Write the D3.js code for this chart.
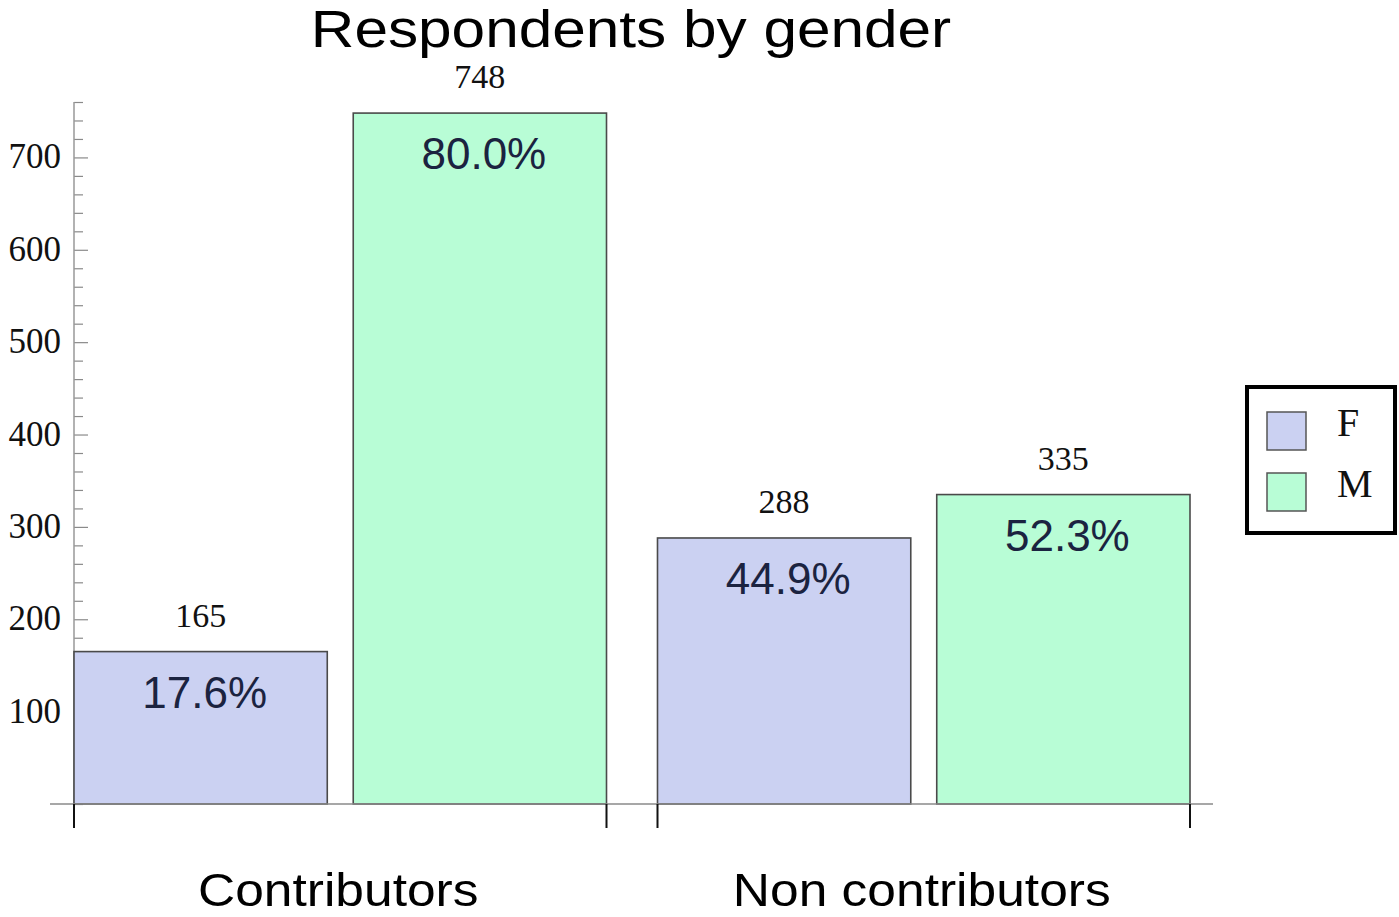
<!DOCTYPE html>
<html>
<head>
<meta charset="utf-8">
<script src="https://cdn.jsdelivr.net/npm/d3@7/dist/d3.min.js"></script>
<style>
  html, body { margin: 0; padding: 0; background: #fff; }
  svg { display: block; }
</style>
</head>
<body>
<script>
const title = "Respondents by gender";
const groups = ["Contributors", "Non contributors"];
const genders = ["F", "M"];
const counts = { "Contributors": [165, 748], "Non contributors": [288, 335] };
const percents = { "Contributors": ["17.6%", "80.0%"], "Non contributors": ["44.9%", "52.3%"] };
const yMajorTicks = [100, 200, 300, 400, 500, 600, 700];
const yMinorTicks = d3.range(0, 761, 20);
const colors = ["#cbd1f2", "#b8fdd6"];

const W = 1399, H = 917;
const svg = d3.select("body").append("svg").attr("width", W).attr("height", H);

const y = d3.scaleLinear().domain([0, 760]).range([804, 102]);
const x0 = d3.scaleBand().domain(groups).range([74, 1190]).paddingInner(0.0874).paddingOuter(0);
const x1 = d3.scaleBand().domain(genders).range([0, x0.bandwidth()]).paddingInner(0.093).paddingOuter(0);
const color = d3.scaleOrdinal().domain(genders).range(colors);

// Title (slightly wide Helvetica-like glyphs)
svg.append("g").attr("transform", "translate(631,47) scale(1.16,1)")
  .append("text").attr("x", 0).attr("y", 0).attr("text-anchor", "middle")
  .attr("font-family", "Liberation Sans, Arial, sans-serif").attr("font-size", 52)
  .attr("fill", "#000").text(title);

// Y axis (minor)
const yAxisMinor = d3.axisRight(y).tickValues(yMinorTicks.filter(v => !yMajorTicks.includes(v))).tickSize(9).tickFormat("");
const gMinor = svg.append("g").attr("transform", "translate(74,0)").call(yAxisMinor);
gMinor.select(".domain").remove();
gMinor.selectAll("line").attr("stroke", "#8a8a8a").attr("stroke-width", 1.2);

const yAxisMajor = d3.axisRight(y).tickValues(yMajorTicks).tickSize(14).tickFormat("");
const gMajor = svg.append("g").attr("transform", "translate(74,0)").call(yAxisMajor);
gMajor.select(".domain").remove();
gMajor.selectAll("line").attr("stroke", "#8a8a8a").attr("stroke-width", 1.2);

// Y axis line
svg.append("line").attr("x1", 74).attr("x2", 74).attr("y1", y(760)).attr("y2", y(0))
  .attr("stroke", "#999").attr("stroke-width", 1.5);

// Y tick labels
svg.append("g").selectAll("text").data(yMajorTicks).join("text")
  .attr("x", 61).attr("y", d => y(d) + 11).attr("text-anchor", "end")
  .attr("font-family", "Liberation Serif, Times New Roman, serif").attr("font-size", 35)
  .attr("fill", "#111").text(d => d);

// Bars
const gGroups = svg.append("g").selectAll("g").data(groups).join("g")
  .attr("transform", g => `translate(${x0(g)},0)`);

gGroups.selectAll("rect").data(g => genders.map((s, i) => ({ g, s, v: counts[g][i], p: percents[g][i] })))
  .join("rect")
  .attr("x", d => x1(d.s)).attr("width", x1.bandwidth())
  .attr("y", d => y(d.v)).attr("height", d => y(0) - y(d.v))
  .attr("fill", d => color(d.s)).attr("stroke", "#4a4a4a").attr("stroke-width", 1.6);

// Count labels above
gGroups.selectAll("text.count").data(g => genders.map((s, i) => ({ g, s, v: counts[g][i] })))
  .join("text").attr("class", "count")
  .attr("x", d => x1(d.s) + x1.bandwidth() / 2).attr("y", d => y(d.v) - 25)
  .attr("text-anchor", "middle")
  .attr("font-family", "Liberation Serif, Times New Roman, serif").attr("font-size", 34)
  .attr("fill", "#111").text(d => d.v);

// Percent labels inside
gGroups.selectAll("text.pct").data(g => genders.map((s, i) => ({ g, s, v: counts[g][i], p: percents[g][i] })))
  .join("text").attr("class", "pct")
  .attr("x", d => x1(d.s) + x1.bandwidth() / 2 + 4).attr("y", d => y(d.v) + 56)
  .attr("text-anchor", "middle")
  .attr("font-family", "Liberation Sans, Arial, sans-serif").attr("font-size", 44)
  .attr("fill", "#1b2340").text(d => d.p);

// X axis line
svg.append("line").attr("x1", 50).attr("x2", 1213).attr("y1", y(0)).attr("y2", y(0))
  .attr("stroke", "#8a8a8a").attr("stroke-width", 1.3);

// Group edge ticks
const edges = [];
groups.forEach(g => { edges.push(x0(g)); edges.push(x0(g) + x0.bandwidth()); });
svg.append("g").selectAll("line").data(edges).join("line")
  .attr("x1", d => d).attr("x2", d => d).attr("y1", y(0)).attr("y2", y(0) + 24)
  .attr("stroke", "#111").attr("stroke-width", 2);

// Group labels
svg.append("g").selectAll("g").data(groups).join("g")
  .attr("transform", g => `translate(${x0(g) + x0.bandwidth() / 2 - 2},906) scale(1.12,1)`)
  .append("text").attr("x", 0).attr("y", 0)
  .attr("text-anchor", "middle")
  .attr("font-family", "Liberation Sans, Arial, sans-serif").attr("font-size", 46)
  .attr("fill", "#000").text(g => g);

// Legend
const lg = svg.append("g");
lg.append("rect").attr("x", 1247).attr("y", 387).attr("width", 148).attr("height", 146)
  .attr("fill", "#fff").attr("stroke", "#000").attr("stroke-width", 4);
const lItems = lg.selectAll("g").data(genders).join("g")
  .attr("transform", (d, i) => `translate(0,${i * 61})`);
lItems.append("rect").attr("x", 1267).attr("y", 412).attr("width", 39).attr("height", 38)
  .attr("fill", d => color(d)).attr("stroke", "#555").attr("stroke-width", 1.5);
lItems.append("text").attr("x", 1337).attr("y", 436).attr("text-anchor", "start")
  .attr("font-family", "Liberation Serif, Times New Roman, serif").attr("font-size", 40)
  .attr("fill", "#111").text(d => d);
</script>
</body>
</html>
